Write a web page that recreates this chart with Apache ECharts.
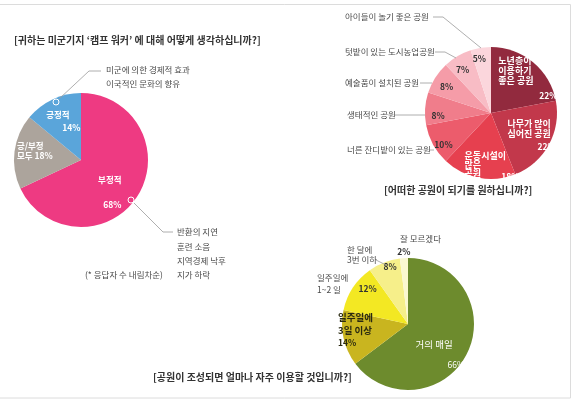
<!DOCTYPE html>
<html><head><meta charset="utf-8">
<script src="https://cdn.jsdelivr.net/npm/echarts@6/dist/echarts.min.js"></script>
<style>html,body{margin:0;padding:0;background:#fff}#c{width:574px;height:405px}</style>
</head><body><div id="c"></div>
<script>
const FONT = '"Noto Sans CJK KR", "Noto Sans", sans-serif';

// ---- data ----
const opinionCats = ['부정적', '긍/부정 모두', '긍정적'];
const opinionVals = [68, 18, 14];
const opinionColors = ['#ee3a82', '#aca49c', '#5aa5da'];

const parkCats = ['노년층이 이용하기 좋은 공원', '나무가 많이 심어진 공원', '운동시설이 많은 공원', '너른 잔디밭이 있는 공원', '생태적인 공원', '예술품이 설치된 공원', '텃밭이 있는 도시농업공원', '아이들이 놀기 좋은 공원'];
const parkVals = [22, 22, 18, 10, 8, 8, 7, 5];
const parkColors = ['#922a3e', '#c2384b', '#e6404f', '#ec5c6c', '#f07d8b', '#f59ca8', '#f8bcc5', '#fbd6dc'];

const freqCats = ['거의 매일', '일주일에 3일 이상', '일주일에 1~2 일', '한 달에 3번 이하', '잘 모르겠다'];
const freqVals = [66, 14, 12, 8, 2];
const freqColors = ['#6d8b2d', '#c9b51f', '#f3e823', '#f6ef8a', '#fbf8d0'];

const titles = [
  {text: '[귀하는 미군기지 ‘캠프 워커’ 에 대해 어떻게 생각하십니까?]', x: 14, y: 40},
  {text: '[어떠한 공원이 되기를 원하십니까?]', x: 384, y: 190},
  {text: '[공원이 조성되면 얼마나 자주 이용할 것입니까?]', x: 153, y: 377}
];

const notes = [
  ['미군에 의한 경제적 효과', 106, 70], ['이국적인 문화의 향유', 106, 84],
  ['반환의 지연', 177, 232], ['훈련 소음', 177, 247], ['지역경제 낙후', 177, 261], ['지가 하락', 177, 275],
  ['(* 응답자 수 내림차순)', 85, 275],
  ['아이들이 놀기 좋은 공원', 345, 17], ['텃밭이 있는 도시농업공원', 345, 52], ['예술품이 설치된 공원', 345, 83],
  ['생태적인 공원', 347, 115], ['너른 잔디밭이 있는 공원', 347, 150],
  ['잘 모르겠다', 400, 239], ['한 달에', 347, 250], ['3번 이하', 347, 260], ['일주일에', 317, 278], ['1~2 일', 317, 290]
];
const leaders = [
  [[59, 99], [89, 71], [101, 71]],
  [[134, 203], [163, 232], [173, 232]],
  [[433, 17], [443, 17], [481, 48]],
  [[435, 52], [445, 52], [456, 58]],
  [[420, 83], [432, 83]],
  [[395, 115], [425, 115]],
  [[430, 150], [434, 150]],
  [[376, 260], [386, 265]]
];

// ---- label configs (text from data) ----
const W = '#ffffff', D = '#333333';
const tok = (c, lh, extra) => Object.assign({color: c, fontFamily: FONT, fontSize: 8.5, fontWeight: 'bold', lineHeight: lh, align: 'left'}, extra || {});

const opinionLabels = [
  {offset: [-2, 19], formatter: p => `{a|${p.name}}\n{b|${p.value}%}`,
   rich: {a: tok(W, 12, {align: 'right'}), b: tok(W, 38, {align: 'right'})}},
  {offset: [-10, -4.3], formatter: p => { const s = p.name.split(' '); return `{a|${s[0]}}\n{a|${s[1]} ${p.value}%}`; },
   rich: {a: tok(W, 10)}},
  {offset: [-2.2, -5.4], formatter: p => `{a|${p.name}}\n{b|${p.value}%}`,
   rich: {a: tok(W, 13), b: tok(W, 13, {padding: [0, 0, 0, 16]})}}
];

const splitPark = [['노년층이', '이용하기', '좋은 공원'], ['나무가 많이', '심어진 공원'], ['운동시설이', '많은', '공원']];
const parkLabels = [
  {offset: [14, -4.6], formatter: p => splitPark[0].map(s => `{a|${s}}`).join('\n') + `\n{b|${p.value}%}`,
   rich: {a: tok(W, 10, {fontSize: 9}), b: tok(W, 20, {padding: [0, 0, 0, 41]})}},
  {offset: [9, 6], formatter: p => splitPark[1].map(s => `{a|${s}}`).join('\n') + `\n{b|${p.value}%}`,
   rich: {a: tok(W, 10, {fontSize: 9}), b: tok(W, 16, {padding: [0, 0, 0, 30]})}},
  {offset: [7.7, 16.6], formatter: p => `{a|${splitPark[2][0]}}\n{a|${splitPark[2][1]}}\n{a|${splitPark[2][2]}}{b|${p.value}%}`,
   rich: {a: tok(W, 9, {fontSize: 9}), b: tok(W, 9, {padding: [6, 0, 0, 20]})}},
  {offset: [-16, 14]}, {offset: [-17, 5]}, {offset: [-14, -7]}, {offset: [-10, -12.6]}, {offset: [-6, -18.4]}
];

const splitFreq = [['거의 매일'], ['일주일에', '3일 이상']];
const freqLabels = [
  {offset: [0, 18.3], formatter: p => `{a|${p.name}}\n{b|${p.value}%}`,
   rich: {a: tok(W, 12, {fontWeight: 'normal', fontSize: 9.5}), b: tok(W, 28, {fontWeight: 'normal', padding: [0, 0, 0, 32]})}},
  {offset: [-17.3, -1.6], formatter: p => `{a|${splitFreq[1][0]}}\n{a|${splitFreq[1][1]}}\n{b|${p.value}%}`,
   rich: {a: tok('#2a2a10', 12.5, {fontSize: 9.5}), b: tok('#2a2a10', 12.5)}},
  {offset: [-10.5, -15.8]}, {offset: [-5, -24]}, {offset: [-2, -36]}
];

function pieSeries(cats, vals, colors, labels, center, radius, defColor) {
  return {
    type: 'pie', center: center, radius: radius, startAngle: 90, clockwise: true,
    avoidLabelOverlap: false, silent: true, animation: false,
    labelLine: {show: false},
    label: {show: true, position: 'inside', color: defColor, fontFamily: FONT, fontSize: 8.5, fontWeight: 'bold',
      formatter: p => `${p.value}%`},
    itemStyle: {borderWidth: 0},
    emphasis: {disabled: true},
    data: cats.map((c, i) => ({name: c, value: vals[i], itemStyle: {color: colors[i]}, label: labels[i]}))
  };
}

const graphics = [
  {type: 'rect', shape: {x: -1, y: 4.5, width: 571.5, height: 393.5}, style: {fill: 'none', stroke: '#dcdcdc', lineWidth: 1}, z: 0},
  ...titles.map(t => ({type: 'text', x: t.x, y: t.y, z: 10,
    style: {text: t.text, fill: '#333', font: `bold 10px ${FONT}`, textVerticalAlign: 'middle'}})),
  ...notes.map(n => ({type: 'text', x: n[1], y: n[2], z: 10,
    style: {text: n[0], fill: '#4a4a4a', font: `8.5px ${FONT}`, textVerticalAlign: 'middle'}})),
  ...leaders.map(pts => ({type: 'polyline', z: 10, shape: {points: pts}, style: {stroke: '#9a9a9a', lineWidth: 0.8, fill: 'none'}})),
  {type: 'circle', z: 20, shape: {cx: 56, cy: 102, r: 3}, style: {fill: 'none', stroke: '#fff', lineWidth: 1}},
  {type: 'circle', z: 20, shape: {cx: 131, cy: 200, r: 3}, style: {fill: 'none', stroke: '#fff', lineWidth: 1}}
];

const chart = echarts.init(document.getElementById('c'), null, {renderer: 'canvas'});
chart.setOption({
  backgroundColor: '#ffffff',
  animation: false,
  series: [
    pieSeries(opinionCats, opinionVals, opinionColors, opinionLabels, [81, 160], 67, W),
    pieSeries(parkCats, parkVals, parkColors, parkLabels, [491, 113], 66, D),
    pieSeries(freqCats, freqVals, freqColors, freqLabels, [408, 324], 66, D)
  ],
  graphic: graphics
});
</script></body></html>
